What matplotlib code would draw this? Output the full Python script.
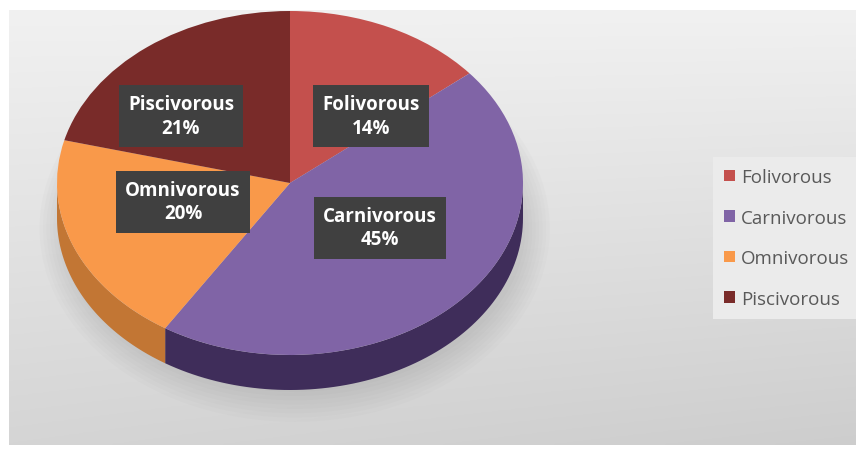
import numpy as np
import matplotlib
matplotlib.use('Agg')
import matplotlib.pyplot as plt
from matplotlib.patches import Polygon, Ellipse

# data
categories = ['Folivorous', 'Carnivorous', 'Omnivorous', 'Piscivorous']
shares = [14, 45, 20, 21]
top_colors = ['#c4504d', '#8064a6', '#f9994a', '#792b29']
side_colors = ['#8f3634', '#3f2d5a', '#c27634', '#561d1c']

W, H = 856, 452
# pie geometry in pixels (ellipse of the top face)
cx, cy, rx, ry, depth = 290, 184, 233, 172, 35

fig = plt.figure(figsize=(W / 100, H / 100), dpi=100)
fig.patch.set_facecolor('white')

# background gradient
bg = fig.add_axes([9 / W, 6 / H, 1 - 9 / W, 1 - 17 / H])
yy, xx = np.mgrid[0:1:200j, 0:1:400j]
grad = 0.945 - 0.08 * yy - 0.06 * xx * yy - 0.03 * (1 - xx) * yy
bg.imshow(np.dstack([grad] * 3), aspect='auto', extent=[0, 1, 0, 1])
bg.axis('off')

ax = fig.add_axes([0, 0, 1, 1])
ax.patch.set_alpha(0)
wedges, _ = ax.pie(shares, colors=top_colors, startangle=90, counterclock=False,
                   radius=1, center=(0, 0), wedgeprops=dict(linewidth=0))
ax.set_aspect('auto')
ax.set_xlim(-cx / rx, (W - cx) / rx)
ax.set_ylim((cy - H) / ry, cy / ry)
ax.axis('off')

d = depth / ry

# soft shadow under the pie
for k in range(8):
    ax.add_patch(Ellipse((0.02, -d - 0.06), 1.98 + 0.03 * k, 1.9 + 0.05 * k,
                         color='#808080', alpha=0.03, lw=0, zorder=0.2))

# front side of each slice
for w, sc in zip(wedges, side_colors):
    t1, t2 = w.theta1, w.theta2
    for off in (-360, 0, 360):
        lo = max(t1 + off, 180)
        hi = min(t2 + off, 360)
        if hi > lo:
            t = np.radians(np.linspace(lo, hi, 80))
            top = np.column_stack([np.cos(t), np.sin(t)])
            bot = np.column_stack([np.cos(t[::-1]), np.sin(t[::-1]) - d])
            ax.add_patch(Polygon(np.vstack([top, bot]), closed=True,
                                 facecolor=sc, edgecolor='none', zorder=0.5))

# data labels in dark boxes (pixel centres)
label_pos = [(371, 117), (380, 229), (183, 203), (181, 117)]
for name, val, (px, py) in zip(categories, shares, label_pos):
    fig.text(px / W, 1 - py / H, f'{name}\n{val}%', ha='center', va='center',
             color='white', fontsize=13.5, fontweight='bold', family='Open Sans',
             linespacing=1.2,
             bbox=dict(boxstyle='square,pad=0.5', facecolor='#404040',
                       edgecolor='none'))

leg = fig.legend(wedges, categories, loc='upper left',
                 bbox_to_anchor=(713 / W, 1 - 158 / H), frameon=True,
                 fancybox=False, facecolor='#ebebeb', edgecolor='none', framealpha=1,
                 handlelength=0.55, handleheight=0.55, handletextpad=0.35,
                 labelspacing=1.2, borderpad=0.6, borderaxespad=0,
                 prop=dict(family='Open Sans', size=13.5))
for t in leg.get_texts():
    t.set_color('#595959')

fig.savefig('out.png', dpi=100)
